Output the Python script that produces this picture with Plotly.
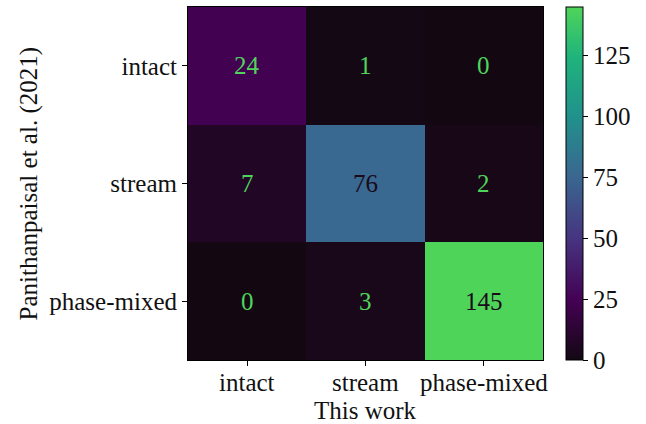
import plotly.graph_objects as go

# Confusion matrix: rows = Panithanpaisal et al. (2021), columns = this work
classes = ["intact", "stream", "phase-mixed"]
counts = [
    [24, 1, 0],
    [7, 76, 2],
    [0, 3, 145],
]
cbar_ticks = [0, 25, 50, 75, 100, 125]
x_title = "This work"
y_title = "Panithanpaisal et al. (2021)"

zmax = 145
colorscale = [
    [0.00, "#130812"],
    [0.17, "#440154"],
    [0.34, "#46337f"],
    [0.52, "#3a6790"],
    [0.69, "#21918c"],
    [0.86, "#1fb47c"],
    [1.00, "#4fd45a"],
]

font_family = "Liberation Serif"
fs = 25
ink = "#111"
n = len(classes)

fig = go.Figure(
    go.Heatmap(
        z=counts,
        x=classes,
        y=classes,
        zmin=0,
        zmax=zmax,
        colorscale=colorscale,
        showscale=True,
        colorbar=dict(
            x=1.065,
            xanchor="left",
            y=0.5,
            yanchor="middle",
            len=353,
            lenmode="pixels",
            ypad=0,
            xpad=0,
            thickness=17,
            outlinecolor="black",
            outlinewidth=1,
            tickvals=cbar_ticks,
            ticks="outside",
            ticklen=5,
            tickcolor="black",
            tickfont=dict(family=font_family, size=fs, color=ink),
        ),
    )
)

# cell counts
for i, row in enumerate(counts):
    for j, v in enumerate(row):
        fig.add_annotation(
            x=classes[j],
            y=classes[i],
            text=str(v),
            showarrow=False,
            font=dict(family=font_family, size=fs,
                      color="#1a0a1a" if v > 60 else "#4fd45a"),
        )

# x tick labels, placed a little closer to the axis than the default
for c in classes:
    fig.add_annotation(
        x=c, xref="x", y=0, yref="paper",
        yanchor="middle", yshift=-22,
        text=c, showarrow=False,
        font=dict(family=font_family, size=fs, color=ink),
    )

# axis titles
fig.add_annotation(
    x=0.5, xref="paper", y=0, yref="paper",
    yanchor="middle", yshift=-50,
    text=x_title, showarrow=False,
    font=dict(family=font_family, size=fs, color=ink),
)
fig.add_annotation(
    x=0, xref="paper", y=0.5, yref="paper",
    xanchor="center", xshift=-160, textangle=-90,
    text=y_title, showarrow=False,
    font=dict(family=font_family, size=fs, color=ink),
)

fig.update_layout(
    width=646,
    height=424,
    margin=dict(l=188, r=103, t=7, b=64, autoexpand=False),
    paper_bgcolor="white",
    plot_bgcolor="white",
    font=dict(family=font_family, size=fs, color=ink),
)
fig.update_xaxes(
    range=[-0.5, n - 0.5], autorange=False,
    showline=True, linecolor="black", linewidth=1, mirror=True,
    ticks="outside", ticklen=5, tickcolor="black",
    showticklabels=False, automargin=False,
)
fig.update_yaxes(
    range=[n - 0.5, -0.5], autorange=False,
    showline=True, linecolor="black", linewidth=1, mirror=True,
    ticks="outside", ticklen=5, tickcolor="black",
    tickfont=dict(size=fs), automargin=False,
)

fig.write_html("out.html")
